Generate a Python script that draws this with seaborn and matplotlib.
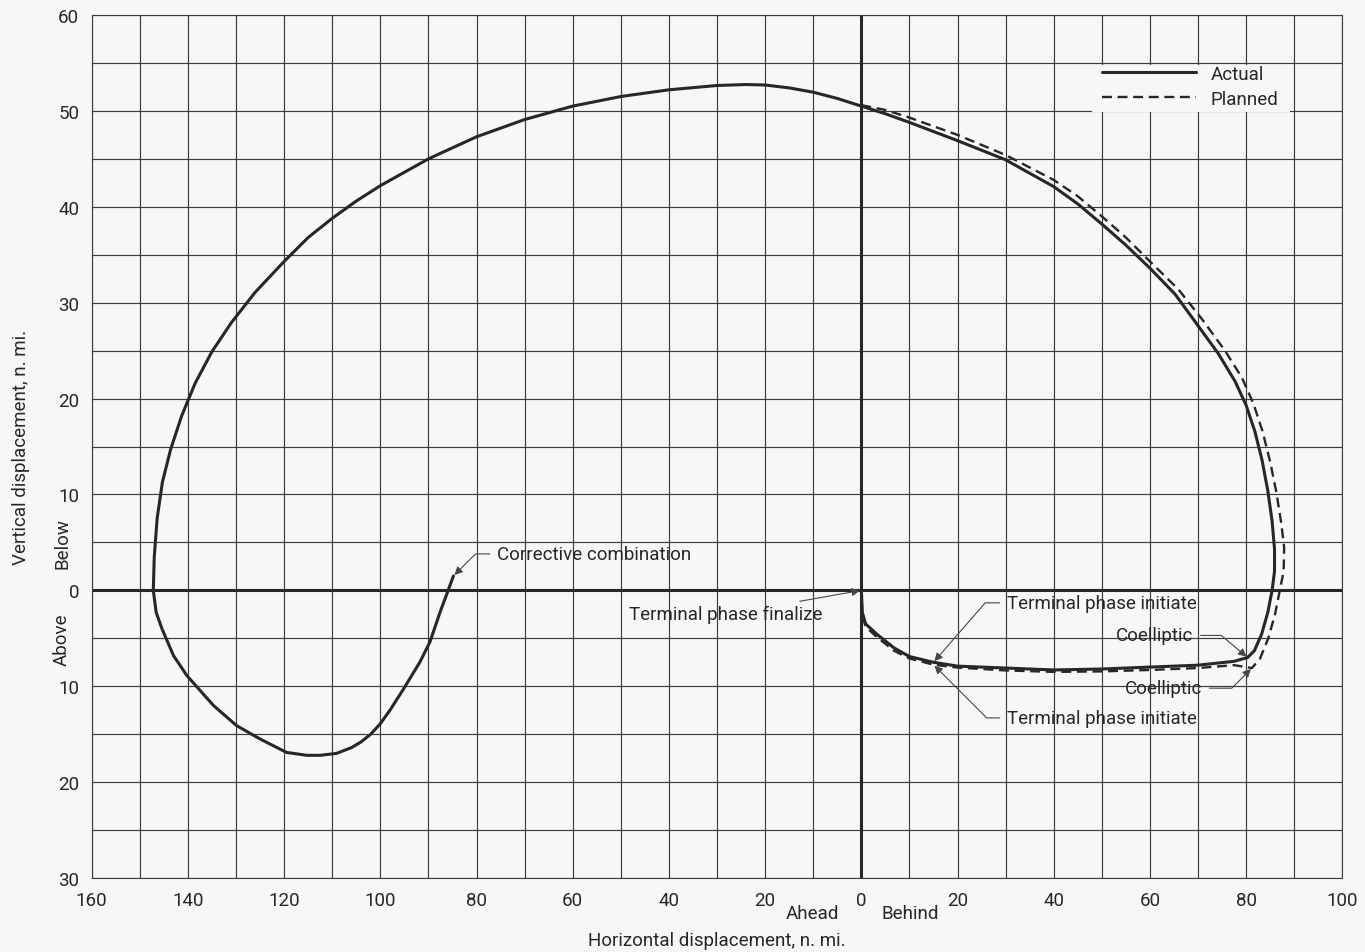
import matplotlib
matplotlib.use("Agg")
import matplotlib.pyplot as plt
from matplotlib import font_manager
from matplotlib.patches import Rectangle
from matplotlib.ticker import MultipleLocator, FuncFormatter
import pandas as pd
import seaborn as sns

# Relative motion about the target vehicle, n. mi.
# x < 0: ahead of the target, x > 0: behind; y > 0: below, y < 0: above.
actual_x = [-84.8, -85.9, -87.6, -89.7, -91.8, -95.2, -98.0, -100.0, -102.0,
            -104.0, -106.0, -109.1, -112.5, -115.3, -119.5, -125.0, -129.9,
            -134.7, -140.2, -143.0, -145.4, -146.6, -147.2, -147.0, -146.4,
            -145.3, -143.6, -141.3, -138.5, -135.0, -131.0, -126.0, -120.0,
            -115.0, -110.0, -105.0, -100.0, -90.0, -80.0, -70.0, -60.0, -50.0,
            -40.0, -30.0, -24.0, -20.0, -15.0, -10.0, -5.0, 0.0, 5.0, 10.0,
            20.0, 30.0, 40.0, 45.0, 50.0, 55.0, 60.0, 65.2, 70.0, 74.2, 77.7,
            80.0, 81.8, 83.3, 84.5, 85.4, 85.9, 85.9, 85.4, 84.5, 83.2, 81.7,
            80.3, 77.5, 70.0, 60.0, 50.0, 40.0, 30.0, 20.0, 15.0, 10.0, 6.8,
            3.3, 0.9, 0.2, 0.0]
actual_y = [1.5, 0.0, -2.3, -5.4, -7.5, -10.3, -12.5, -13.9, -15.0, -15.8,
            -16.4, -17.0, -17.2, -17.2, -16.9, -15.5, -14.1, -12.0, -8.9, -6.8,
            -4.0, -2.3, 0.0, 3.5, 7.5, 11.3, 14.7, 18.2, 21.6, 24.9, 27.9, 31.1,
            34.3, 36.8, 38.8, 40.6, 42.2, 45.0, 47.3, 49.1, 50.5, 51.5, 52.2,
            52.65, 52.75, 52.7, 52.4, 51.95, 51.3, 50.5, 49.7, 48.8, 46.9, 44.9,
            42.1, 40.3, 38.2, 36.0, 33.6, 30.9, 27.6, 24.7, 21.8, 19.3, 16.6,
            13.6, 10.4, 7.2, 4.3, 2.0, 0.0, -2.3, -4.6, -6.3, -7.0, -7.4, -7.8,
            -8.0, -8.2, -8.3, -8.1, -7.9, -7.5, -6.9, -6.0, -4.6, -3.5, -2.3,
            0.0]

planned_x = [0.0, 5.0, 10.0, 20.0, 30.0, 40.0, 45.0, 50.0, 55.0, 60.0, 65.9,
             70.8, 75.6, 79.1, 81.5, 83.4, 85.0, 86.3, 87.3, 87.9, 87.8, 87.0,
             86.0, 84.6, 82.9, 81.2, 77.5, 70.0, 60.0, 50.0, 40.0, 30.0, 20.0,
             15.0, 10.0, 6.8, 3.3, 0.9, 0.2, 0.0]
planned_y = [50.6, 50.1, 49.3, 47.5, 45.4, 42.8, 41.1, 39.0, 36.8, 34.3, 31.4,
             28.3, 25.0, 22.2, 19.5, 16.6, 13.4, 10.2, 7.0, 4.5, 2.0, 0.0, -2.5,
             -5.0, -7.1, -8.1, -7.8, -8.1, -8.3, -8.45, -8.5, -8.35, -8.05,
             -7.75, -7.1, -6.3, -4.9, -3.8, -2.6, 0.0]

# Maneuver events: label, series, index of the point in that series
event_labels = ["Corrective combination", "Terminal phase finalize",
                "Terminal phase initiate", "Terminal phase initiate",
                "Coelliptic", "Coelliptic"]
event_series = ["actual", "actual", "actual", "planned", "actual", "planned"]
event_index = [0, len(actual_x) - 1, 82, 33, 74, 25]

x_ticks = list(range(-160, 101, 20))
y_ticks = list(range(-30, 61, 10))

# ---------------------------------------------------------------- styling
paper = "#f7f7f5"
ink = "#2a2626"
grid_ink = "#3c3c3c"

sns.set_theme(style="white")
names = {f.name for f in font_manager.fontManager.ttflist}
family = ["Roboto", "DejaVu Sans"] if "Roboto" in names else ["DejaVu Sans"]
fs = 13.5 if family[0] == "Roboto" else 12
plt.rcParams["font.family"] = family
plt.rcParams["text.color"] = ink

fig = plt.figure(figsize=(13.65, 9.53), dpi=100, facecolor=paper)
ax = fig.add_axes([0.0672, 0.0776, 0.9162, 0.9056], facecolor=paper)

series = pd.DataFrame({"x": actual_x + planned_x,
                       "y": actual_y + planned_y,
                       "trace": ["Actual"] * len(actual_x) + ["Planned"] * len(planned_x)})

sns.lineplot(data=series[series.trace == "Actual"], x="x", y="y", sort=False,
             estimator=None, color=ink, lw=2.2, ax=ax, label="Actual", zorder=4)
sns.lineplot(data=series[series.trace == "Planned"], x="x", y="y", sort=False,
             estimator=None, color=ink, lw=1.7, ax=ax, label="Planned",
             dashes=(4.2, 2.4), zorder=3)

ax.set_xlim(-160, 100)
ax.set_ylim(-30, 60)
ax.xaxis.set_minor_locator(MultipleLocator(10))
ax.yaxis.set_minor_locator(MultipleLocator(5))
ax.set_xticks(x_ticks)
ax.set_yticks(y_ticks)
absfmt = FuncFormatter(lambda v, _: f"{abs(int(round(v)))}")
ax.xaxis.set_major_formatter(absfmt)
ax.yaxis.set_major_formatter(absfmt)
ax.tick_params(which="both", length=0, labelsize=fs, colors=ink)
ax.tick_params(axis="x", pad=9)
ax.tick_params(axis="y", pad=9)
ax.set_axisbelow(True)
ax.grid(which="both", color=grid_ink, lw=0.85)
for s in ax.spines.values():
    s.set_color(grid_ink)
    s.set_linewidth(0.8)

# Reference axes through the target
ax.axhline(0, color=ink, lw=2.2, zorder=2)
ax.axvline(0, color=ink, lw=2.2, zorder=2)

ax.set_xlabel("Horizontal displacement, n. mi.", fontsize=fs, color=ink)
ax.set_ylabel("Vertical displacement, n. mi.", fontsize=fs, color=ink)
ax.xaxis.set_label_coords(0.5, -0.061)
ax.yaxis.set_label_coords(-0.049, 0.5)

# Direction words next to the zero ticks
ax.text(-10.2, -0.041, "Ahead", transform=ax.get_xaxis_transform(),
        ha="center", va="center", fontsize=fs, color=ink)
ax.text(10.2, -0.041, "Behind", transform=ax.get_xaxis_transform(),
        ha="center", va="center", fontsize=fs, color=ink)
ax.text(-0.0237, 5.0, "Below", transform=ax.get_yaxis_transform(),
        rotation=90, ha="center", va="center", fontsize=fs, color=ink)
ax.text(-0.0237, -5.0, "Above", transform=ax.get_yaxis_transform(),
        rotation=90, ha="center", va="center", fontsize=fs, color=ink)

# Legend on a blank patch of the grid
ax.add_patch(Rectangle((0.800, 0.8876), 0.158, 0.055, transform=ax.transAxes,
                       facecolor=paper, edgecolor="none", zorder=1))
leg = ax.legend(loc="upper left", bbox_to_anchor=(0.808, 0.9425), frameon=False,
                borderpad=0, borderaxespad=0, handlelength=5.0,
                handletextpad=0.8, labelspacing=0.38, fontsize=fs)
for t in leg.get_texts():
    t.set_color(ink)

# Event call-outs
text_pos = [(-75.7, 3.8), (-8.0, -2.5), (30.3, -1.3), (30.3, -13.3),
            (69.0, -4.7), (70.8, -10.2)]
text_ha = ["left", "right", "left", "left", "right", "right"]
links = ["angle,angleA=0,angleB=45,rad=0", "arc3,rad=0",
         "angle,angleA=0,angleB=49,rad=0", "angle,angleA=0,angleB=-45,rad=0",
         "angle,angleA=0,angleB=140,rad=0", "angle,angleA=0,angleB=45,rad=0"]
for label, ser, idx, pos, ha, link in zip(event_labels, event_series,
                                          event_index, text_pos, text_ha, links):
    xs, ys = (actual_x, actual_y) if ser == "actual" else (planned_x, planned_y)
    ax.annotate(label, xy=(xs[idx], ys[idx]), xytext=pos, ha=ha, va="center",
                fontsize=fs, color=ink, zorder=6,
                arrowprops=dict(arrowstyle="-|>", color="#4a4545", lw=0.8,
                                mutation_scale=12, shrinkA=3, shrinkB=1,
                                connectionstyle=link))

fig.savefig("out.png", dpi=100, facecolor=paper)
